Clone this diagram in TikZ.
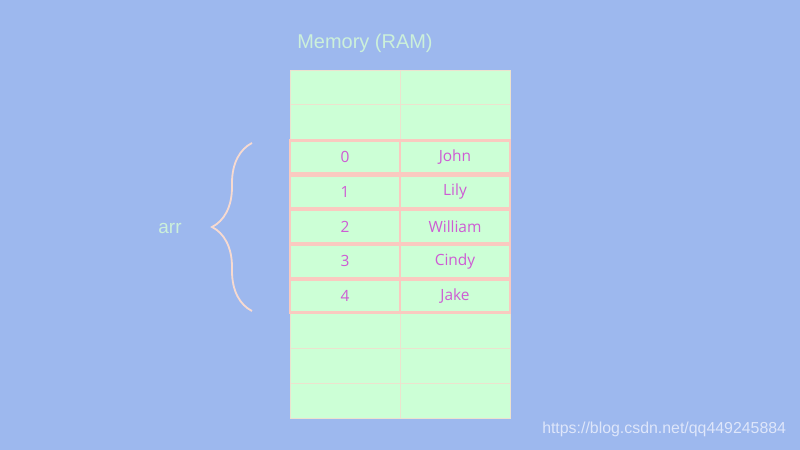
\documentclass[tikz,border=0pt]{standalone}
\usepackage{fontspec}
\setmainfont{Liberation Sans}
\newfontfamily\cellfont{Open Sans}
\usetikzlibrary{decorations.pathreplacing}
\definecolor{bgblue}{RGB}{157,184,238}
\definecolor{cellgreen}{RGB}{204,255,214}
\definecolor{gridline}{RGB}{236,226,206}
\definecolor{linepink}{RGB}{250,202,192}
\definecolor{bracepink}{RGB}{247,218,208}
\definecolor{txtpink}{RGB}{206,92,212}
\definecolor{titlegreen}{RGB}{204,240,218}
\definecolor{markwhite}{RGB}{222,230,250}

\begin{document}
\begin{tikzpicture}[x=0.25mm, y=-0.25mm,
  emptycell/.style={draw=gridline, line width=0.5pt, fill=cellgreen, minimum width=27.5mm, minimum height=8.7mm, inner sep=0pt, outer sep=0pt},
  arrcell/.style={draw=linepink, line width=2.1pt, fill=cellgreen, minimum width=27.5mm, minimum height=8.3mm, inner sep=0pt, outer sep=0pt, text=txtpink, font=\cellfont\fontsize{11}{13}\selectfont}]
\fill[bgblue] (0,0) rectangle (800,450);
\node[text=titlegreen, font=\fontsize{14.2}{16}\selectfont] (title) at (365,43) {Memory (RAM)};
% free memory cells above and below
\foreach \r/\y in {a/87.4, b/122.2, c/331, d/365.8, e/400.6} {
  \node[emptycell] (l\r) at (345,\y) {};
  \node[emptycell] (r\r) at (455,\y) {};
}
% the array
\node[arrcell] (i0) at (345,157) {0};       \node[arrcell] (n0) at (455,157) {John};
\node[arrcell] (i1) at (345,191.8) {1};     \node[arrcell] (n1) at (455,191.8) {Lily};
\node[arrcell] (i2) at (345,226.6) {2};     \node[arrcell] (n2) at (455,226.6) {William};
\node[arrcell] (i3) at (345,261.4) {3};     \node[arrcell] (n3) at (455,261.4) {Cindy};
\node[arrcell] (i4) at (345,296.2) {4};     \node[arrcell] (n4) at (455,296.2) {Jake};
\coordinate (bbot) at (252,311);
\coordinate (btop) at (252,143);
\draw[bracepink, line width=1.3pt, decorate, decoration={brace, amplitude=10mm}] (bbot) -- (btop);
\node[text=titlegreen, font=\fontsize{13.5}{15}\selectfont] (arr) at (170,228) {arr};
\node[text=markwhite, font=\fontsize{11.3}{13}\selectfont, anchor=east] (mark) at (791,429) {https://blog.csdn.net/qq449245884};
\end{tikzpicture}
\end{document}
